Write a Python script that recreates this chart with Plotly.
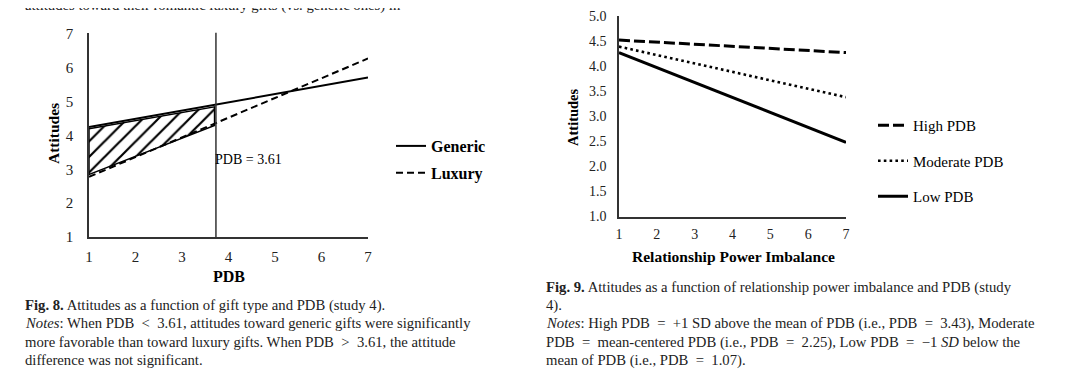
import plotly.graph_objects as go

W, H = 1080, 377
SERIF = "Liberation Serif"
OFF = 8  # page body margin

# ---------------- data: Fig. 8 ----------------
pdb_x = [1, 7]
generic_y = [4.25, 5.72]
luxury_y = [2.78, 6.28]
sig_region_x = [1, 3.7, 3.7, 1, 1]
sig_region_y = [4.2, 4.85, 4.3, 2.85, 4.2]
jn_point = 3.73
jn_label = "PDB = 3.61"
fig8_ticks_x = [1, 2, 3, 4, 5, 6, 7]
fig8_ticks_y = [1, 2, 3, 4, 5, 6, 7]

# ---------------- data: Fig. 9 ----------------
rpi_x = [1, 7]
high_pdb_y = [4.52, 4.27]
moderate_pdb_y = [4.39, 3.38]
low_pdb_y = [4.27, 2.48]
fig9_ticks_x = [1, 2, 3, 4, 5, 6, 7]
fig9_ticks_y = [1.0, 1.5, 2.0, 2.5, 3.0, 3.5, 4.0, 4.5, 5.0]


def fx(p):
    return (p - OFF) / W


def fy(p):
    return 1 - (p - OFF) / H


fig = go.Figure()

# Fig. 8 traces
fig.add_trace(go.Scatter(
    x=sig_region_x, y=sig_region_y, mode="lines", fill="toself",
    fillcolor="white",
    fillpattern=dict(shape="/", fgcolor="black", fgopacity=1, bgcolor="white",
                     size=11, solidity=0.2),
    line=dict(color="black", width=1.5), showlegend=False, hoverinfo="skip",
    xaxis="x", yaxis="y"))
fig.add_trace(go.Scatter(
    x=pdb_x, y=generic_y, mode="lines", name="Generic",
    line=dict(color="black", width=2), legend="legend", legendgroup="g1",
    xaxis="x", yaxis="y"))
fig.add_trace(go.Scatter(
    x=pdb_x, y=luxury_y, mode="lines", name="Luxury",
    line=dict(color="black", width=2, dash="7px,4px"), legend="legend", legendgroup="g2",
    xaxis="x", yaxis="y"))

# Fig. 9 traces
fig.add_trace(go.Scatter(
    x=rpi_x, y=high_pdb_y, mode="lines", name="High PDB",
    line=dict(color="black", width=3, dash="11px,4px"), legend="legend2", legendgroup="h1",
    xaxis="x2", yaxis="y2"))
fig.add_trace(go.Scatter(
    x=rpi_x, y=moderate_pdb_y, mode="lines", name="Moderate PDB",
    line=dict(color="black", width=2.6, dash="2.6px,3.2px"), legend="legend2", legendgroup="h2",
    xaxis="x2", yaxis="y2"))
fig.add_trace(go.Scatter(
    x=rpi_x, y=low_pdb_y, mode="lines", name="Low PDB",
    line=dict(color="black", width=3), legend="legend2", legendgroup="h3",
    xaxis="x2", yaxis="y2"))

axis_common = dict(showgrid=False, zeroline=False, showline=True, linecolor="#333333",
                   linewidth=1.5, ticks="", fixedrange=True)

fig.update_layout(
    width=W, height=H, margin=dict(l=0, r=0, t=0, b=0, autoexpand=False),
    paper_bgcolor="white", plot_bgcolor="white",
    font=dict(family=SERIF, color="black"),
    xaxis=dict(axis_common, domain=[fx(89), fx(368)], range=[1, 7], tickvals=fig8_ticks_x,
               tickfont=dict(family=SERIF, size=15, color="#222"), ticklabelstandoff=5,
               anchor="y"),
    yaxis=dict(axis_common, domain=[fy(237), fy(32.5)], range=[1, 7.05], tickvals=fig8_ticks_y,
               tickfont=dict(family=SERIF, size=15, color="#222"), ticklabelstandoff=11,
               anchor="x"),
    xaxis2=dict(axis_common, domain=[fx(619), fx(846)], range=[1, 7], tickvals=fig9_ticks_x,
                tickfont=dict(family=SERIF, size=14, color="#222"), ticklabelstandoff=4,
                anchor="y2"),
    yaxis2=dict(axis_common, domain=[fy(216.5), fy(16)], range=[1, 5], tickvals=fig9_ticks_y,
                tickformat=".1f",
                tickfont=dict(family=SERIF, size=14, color="#222"), ticklabelstandoff=8,
                anchor="x2"),
    legend=dict(x=fx(391), y=fy(129), xanchor="left", yanchor="top",
                font=dict(family=SERIF, size=16, color="black", weight="bold"),
                bgcolor="rgba(0,0,0,0)", tracegroupgap=3, traceorder="grouped"),
    legend2=dict(x=fx(873), y=fy(109), xanchor="left", yanchor="top",
                 font=dict(family=SERIF, size=15, color="black"),
                 bgcolor="rgba(0,0,0,0)", tracegroupgap=13, traceorder="grouped"),
    showlegend=True,
)

# vertical Johnson-Neyman line
fig.add_shape(type="line", xref="x", yref="y", x0=jn_point, x1=jn_point, y0=1, y1=7.05,
              line=dict(color="#333333", width=1.5))

ann = []
# axis titles
ann.append(dict(text="<b>Attitudes</b>", x=fx(53), y=fy(134), xref="paper", yref="paper",
                xanchor="center", yanchor="middle",
                textangle=-90, showarrow=False, font=dict(family=SERIF, size=15.5)))
ann.append(dict(text="<b>PDB</b>", x=fx(229), y=fy(276), xref="paper", yref="paper",
                xanchor="center", yanchor="middle",
                showarrow=False, font=dict(family=SERIF, size=16)))
ann.append(dict(text=jn_label, x=jn_point, y=3.28, xref="x", yref="y", xanchor="left",
                yanchor="middle", xshift=-3, showarrow=False, font=dict(family=SERIF, size=14)))
ann.append(dict(text="<b>Attitudes</b>", x=fx(573), y=fy(117), xref="paper", yref="paper",
                xanchor="center", yanchor="middle",
                textangle=-90, showarrow=False, font=dict(family=SERIF, size=14.5)))
ann.append(dict(text="<b>Relationship Power Imbalance</b>", x=fx(733), y=fy(256),
                xref="paper", yref="paper", xanchor="center", yanchor="middle",
                showarrow=False, font=dict(family=SERIF, size=15.5)))

# captions
cap_font = dict(family=SERIF, size=14.7, color="#222")
left_lines = [
    (305, "<b>Fig. 8.</b> Attitudes as a function of gift type and PDB (study 4)."),
    (323, "<i>Notes</i>: When PDB  &lt;  3.61, attitudes toward generic gifts were significantly"),
    (342, "more favorable than toward luxury gifts. When PDB  &gt;  3.61, the attitude"),
    (360, "difference was not significant."),
]
right_lines = [
    (287, "<b>Fig. 9.</b> Attitudes as a function of relationship power imbalance and PDB (study"),
    (305, "4)."),
    (323, "<i>Notes</i>: High PDB  =  +1 SD above the mean of PDB (i.e., PDB  =  3.43), Moderate"),
    (342, "PDB  =  mean-centered PDB (i.e., PDB  =  2.25), Low PDB  =  \u22121 <i>SD</i> below the"),
    (360, "mean of PDB (i.e., PDB  =  1.07)."),
]
for yy, t in left_lines:
    ann.append(dict(text=t, x=fx(23), y=fy(yy), xref="paper", yref="paper", xanchor="left",
                    yanchor="middle", showarrow=False, font=cap_font))
for yy, t in right_lines:
    ann.append(dict(text=t, x=fx(544), y=fy(yy), xref="paper", yref="paper", xanchor="left",
                    yanchor="middle", showarrow=False, font=cap_font))
# cut-off text line at very top
ann.append(dict(text="attitudes toward their romantic luxury gifts (vs. generic ones) in",
                x=fx(23), y=fy(6), xref="paper", yref="paper", xanchor="left",
                yanchor="middle", showarrow=False, font=cap_font))

fig.update_layout(annotations=ann)
fig.write_html("out.html")
